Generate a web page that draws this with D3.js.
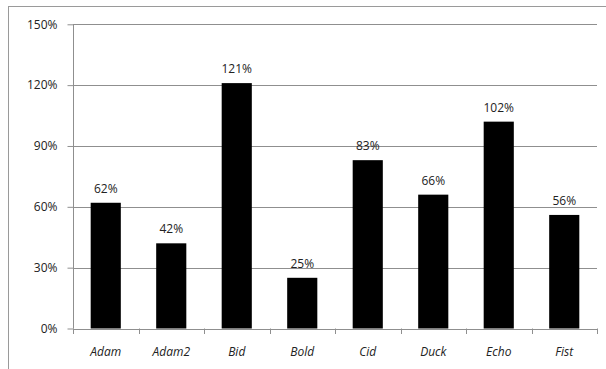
<!DOCTYPE html>
<html>
<head>
<meta charset="utf-8">
<script src="https://cdn.jsdelivr.net/npm/d3@7"></script>
<style>
  html, body { margin: 0; padding: 0; background: #fff; }
  svg { display: block; }
  text { font-family: "Open Sans", "Noto Sans", sans-serif; fill: #222; }
</style>
</head>
<body>
<svg id="chart" width="606" height="369"></svg>
<script>
// Category names and their percentages
const categories = ["Adam", "Adam2", "Bid", "Bold", "Cid", "Duck", "Echo", "Fist"];
const values = [62, 42, 121, 25, 83, 66, 102, 56];
const yTicks = [0, 30, 60, 90, 120, 150];

const svg = d3.select("#chart");
const plotLeft = 73, plotRight = 597, plotTop = 24.3, plotBottom = 328.5;

// Outer chart frame (runs past the right and bottom edges)
svg.append("rect")
  .attr("x", 8.5).attr("y", 6.5)
  .attr("width", 610).attr("height", 380)
  .attr("fill", "none").attr("stroke", "#9a9a9a").attr("stroke-width", 1);

const x = d3.scaleBand().domain(categories).range([plotLeft, plotRight]).paddingInner(0.54).paddingOuter(0.27);
const xStep = d3.scaleBand().domain(categories).range([plotLeft, plotRight]);
const y = d3.scaleLinear().domain([0, 150]).range([plotBottom, plotTop]);

// Horizontal gridlines
svg.append("g").selectAll("line")
  .data(yTicks.filter(d => d > 0))
  .join("line")
  .attr("x1", plotLeft).attr("x2", plotRight)
  .attr("y1", d => Math.round(y(d)) + 0.5).attr("y2", d => Math.round(y(d)) + 0.5)
  .attr("stroke", "#8f8f8f").attr("stroke-width", 1);

// Y axis
const yAxis = d3.axisLeft(y).tickValues(yTicks).tickFormat(d => d + "%").tickSize(6).tickPadding(10);
const gy = svg.append("g").attr("transform", `translate(${plotLeft + 0.5},0)`).call(yAxis);
gy.selectAll(".tick line").attr("stroke", "#8f8f8f");
gy.select(".domain").attr("stroke", "#8f8f8f").attr("d", `M0,${plotTop}V${plotBottom}`);
gy.selectAll("text").attr("font-size", "12px").attr("fill", "#222")
  .attr("font-family", "'Open Sans', sans-serif");

// Bars
svg.append("g").selectAll("rect")
  .data(values)
  .join("rect")
  .attr("x", (d, i) => x(categories[i]))
  .attr("width", x.bandwidth())
  .attr("y", d => y(d))
  .attr("height", d => plotBottom - y(d))
  .attr("fill", "#000");

// X axis line with boundary ticks between categories
const gx = svg.append("g");
gx.append("line")
  .attr("x1", plotLeft).attr("x2", plotRight)
  .attr("y1", Math.round(plotBottom) + 0.5).attr("y2", Math.round(plotBottom) + 0.5)
  .attr("stroke", "#8f8f8f");
gx.selectAll("line.tk")
  .data(categories.concat(["_end"]))
  .join("line")
  .attr("class", "tk")
  .attr("x1", (d, i) => Math.round(plotLeft + i * xStep.step()) + 0.5)
  .attr("x2", (d, i) => Math.round(plotLeft + i * xStep.step()) + 0.5)
  .attr("y1", plotBottom).attr("y2", plotBottom + 5.5)
  .attr("stroke", "#8f8f8f");

// Category labels
gx.selectAll("text")
  .data(categories)
  .join("text")
  .attr("x", d => xStep(d) + xStep.bandwidth() / 2)
  .attr("y", 356)
  .attr("text-anchor", "middle")
  .attr("font-size", "12px")
  .attr("font-style", "italic")
  .text(d => d);

// Value labels above bars
svg.append("g").selectAll("text")
  .data(values)
  .join("text")
  .attr("x", (d, i) => x(categories[i]) + x.bandwidth() / 2)
  .attr("y", d => y(d) - 10)
  .attr("text-anchor", "middle")
  .attr("font-size", "12px")
  .text(d => d + "%");
</script>
</body>
</html>
